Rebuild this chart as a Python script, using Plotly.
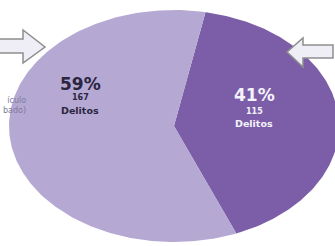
import numpy as np
import plotly.graph_objects as go

# Data
slice_names = ["Delitos (grupo 2)", "Delitos (grupo 1)"]
counts = [115, 167]
colors = ["#7b5ea7", "#b5a8d3"]
text_colors = ["#f4f2fa", "#2b2540"]
unit_label = "Delitos"
side_text = ["ículo", "bado)"]

W, H = 335, 246
cx, cy, rx, ry = 174, 126, 165, 116
start_deg = 11.0

total = sum(counts)
fig = go.Figure()

a0 = start_deg
for i, c in enumerate(counts):
    span = 360.0 * c / total
    t = np.radians(np.linspace(a0, a0 + span, 200))
    xs = np.concatenate([[cx], cx + rx * np.sin(t), [cx]])
    ys = np.concatenate([[cy], cy - ry * np.cos(t), [cy]])
    fig.add_trace(go.Scatter(x=xs, y=ys, fill="toself", mode="lines",
                             line=dict(width=0, color=colors[i]),
                             fillcolor=colors[i], hoverinfo="skip",
                             showlegend=False))
    a0 += span

FONT = "DejaVu Sans, Verdana, sans-serif"
# label positions (layout)
label_pos = [(254, 95), (80, 84)]
line_offsets = [(16, 28), (13, 26)]
for i, c in enumerate(counts):
    lx, ly = label_pos[i]
    o1, o2 = line_offsets[i]
    pct = round(100 * c / total)
    fig.add_annotation(x=lx, y=ly, text=f"<b>{pct}%</b>", showarrow=False,
                       font=dict(family=FONT, size=17, color=text_colors[i]))
    fig.add_annotation(x=lx, y=ly + o1, text=f"<b>{c}</b>", showarrow=False,
                       font=dict(family=FONT, size=8, color=text_colors[i]))
    fig.add_annotation(x=lx, y=ly + o2, text=f"<b>{unit_label}</b>", showarrow=False,
                       font=dict(family=FONT, size=9.5, color=text_colors[i]))

fig.add_annotation(x=28, y=105, xanchor="right", align="right",
                   text="<br>".join(side_text), showarrow=False,
                   font=dict(family=FONT, size=8, color="#7d7b98"))

arrow_style = dict(type="path", fillcolor="#efeef6", line=dict(color="#8e8e8e", width=1.5),
                   layer="above", xref="x", yref="y")
fig.add_shape(path="M-3,39 L23,39 L23,30 L45,47 L23,63 L23,53 L-3,53 Z", **arrow_style)
fig.add_shape(path="M287,52 L303,38 L303,45 L333,45 L333,58 L303,58 L303,67 Z", **arrow_style)

fig.update_layout(width=W, height=H, margin=dict(l=0, r=0, t=0, b=0),
                  paper_bgcolor="white", plot_bgcolor="white", showlegend=False,
                  xaxis=dict(range=[0, W], visible=False, fixedrange=True),
                  yaxis=dict(range=[H, 0], visible=False, fixedrange=True))
fig.write_html("out.html", config={"displayModeBar": False},
               post_script="document.body.style.margin='0';document.body.style.overflow='hidden';")
